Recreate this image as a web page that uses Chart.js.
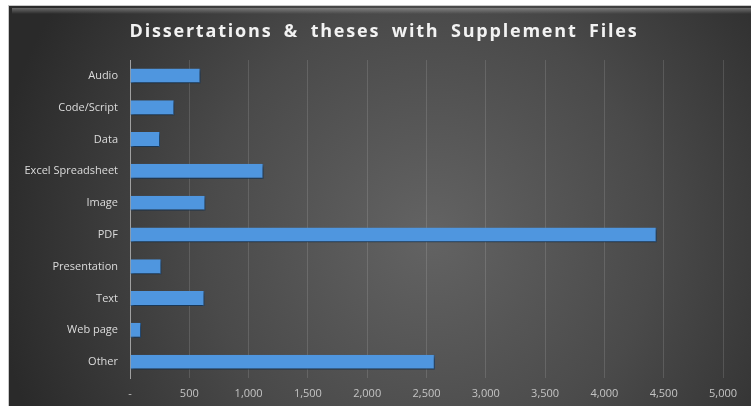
<!DOCTYPE html>
<html>
<head>
<meta charset="utf-8">
<script src="https://cdn.jsdelivr.net/npm/chart.js@4"></script>
<style>
  html, body { margin: 0; padding: 0; background: #ffffff; }
  #wrap { width: 751px; height: 406px; position: relative; }
</style>
</head>
<body>
<div id="wrap"><canvas id="chart"></canvas></div>
<script>
//Data
const categories = ['Audio', 'Code/Script', 'Data', 'Excel Spreadsheet', 'Image', 'PDF', 'Presentation', 'Text', 'Web page', 'Other'];
const fileCounts = [595, 374, 253, 1126, 636, 4441, 265, 628, 93, 2570];
const xTicks = [0, 500, 1000, 1500, 2000, 2500, 3000, 3500, 4000, 4500, 5000];
const titleText = 'Dissertations & theses with Supplement Files';

//Dark panel with a soft light in the middle
const panelBackground = {
    id: 'panelBackground',
    beforeDraw(chart) {
        const c = chart.ctx;
        const w = chart.width, h = chart.height;
        c.save();
        c.fillStyle = '#ffffff';
        c.fillRect(0, 0, w, h);
        c.fillStyle = '#c8c8c8';
        c.fillRect(8, 5, w - 8, h - 5);
        const g = c.createRadialGradient(430, 235, 10, 430, 235, 440);
        g.addColorStop(0, '#626262');
        g.addColorStop(0.5, '#4a4a4a');
        g.addColorStop(1, '#2a2a2a');
        c.fillStyle = g;
        c.fillRect(9, 6, w - 9, h - 6);
        const top = c.createLinearGradient(0, 8, 0, 14);
        top.addColorStop(0, 'rgba(255,255,255,0.30)');
        top.addColorStop(1, 'rgba(255,255,255,0)');
        c.fillStyle = top;
        c.fillRect(12, 8, w - 12, 6);
        c.restore();
    }
};

//Title drawn by hand for the wide letter spacing
const spacedTitle = {
    id: 'spacedTitle',
    afterDraw(chart) {
        const c = chart.ctx;
        c.save();
        c.font = 'bold 18px "Open Sans"';
        c.letterSpacing = '1.8px';
        c.wordSpacing = '5px';
        c.fillStyle = '#f2f2f2';
        c.textAlign = 'center';
        c.textBaseline = 'middle';
        c.fillText(titleText, 384, 32);
        c.restore();
    }
};

//Small drop shadow under the bars
const barShadow = {
    id: 'barShadow',
    beforeDatasetsDraw(chart) {
        const c = chart.ctx;
        c.save();
        c.shadowColor = 'rgba(0,0,0,0.55)';
        c.shadowBlur = 3;
        c.shadowOffsetX = 1;
        c.shadowOffsetY = 2;
    },
    afterDatasetsDraw(chart) {
        chart.ctx.restore();
    }
};

const myChart = new Chart(document.querySelector('#chart'), {
    type: 'bar',
    data: {
        labels: categories,
        datasets: [{
            label: 'Supplement files',
            data: fileCounts,
            backgroundColor: '#4f96df',
            borderColor: '#2c5f96',
            borderWidth: { top: 0, right: 1, bottom: 1, left: 0 },
            borderSkipped: false,
            barPercentage: 0.47,
            categoryPercentage: 1
        }]
    },
    options: {
        indexAxis: 'y',
        responsive: true,
        maintainAspectRatio: false,
        animation: false,
        layout: {
            padding: { top: 60, right: 28, left: 0, bottom: 0 }
        },
        scales: {
            x: {
                min: 0,
                max: 5000,
                afterFit(axis) { axis.height = 28; },
                afterBuildTicks(axis) { axis.ticks = xTicks.map(v => ({ value: v })); },
                grid: {
                    color: 'rgba(255,255,255,0.13)',
                    drawTicks: false
                },
                border: { display: false },
                ticks: {
                    padding: 9,
                    color: '#c4c4c4',
                    font: { family: 'Open Sans', size: 11 },
                    callback: v => v === 0 ? '-' : v.toLocaleString('en-US')
                }
            },
            y: {
                afterFit(axis) { axis.width = 130; },
                grid: { display: false, drawTicks: false },
                border: { display: true, color: '#a0a0a0', width: 1 },
                ticks: {
                    padding: 12,
                    color: '#dcdcdc',
                    font: { family: 'Open Sans', size: 11 }
                }
            }
        },
        plugins: {
            legend: { display: false },
            title: { display: false },
            tooltip: {
                callbacks: {
                    label: function(ctx) {
                        return `${ctx.label}: ${ctx.parsed.x.toLocaleString('en-US')}`;
                    }
                }
            }
        }
    },
    plugins: [panelBackground, barShadow, spacedTitle]
});
</script>
</body>
</html>
